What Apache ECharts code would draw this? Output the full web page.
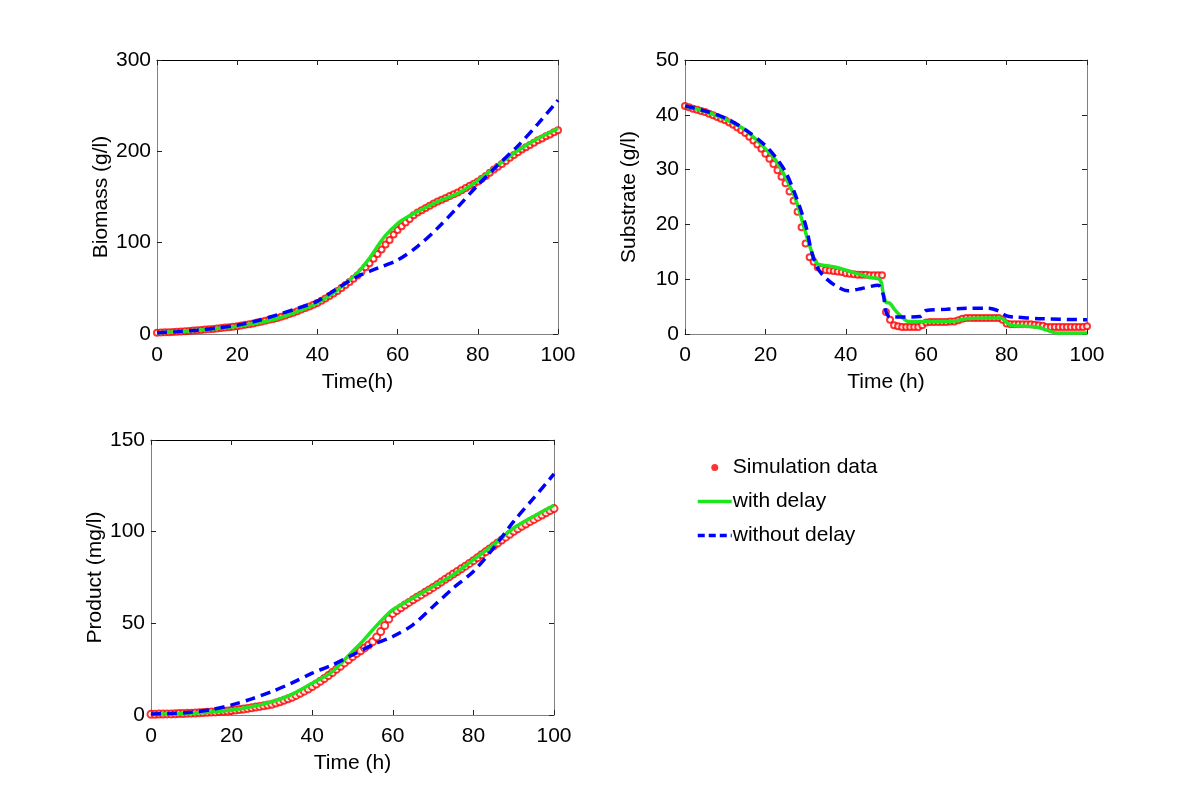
<!DOCTYPE html>
<html>
<head>
<meta charset="utf-8">
<script src="https://cdn.jsdelivr.net/npm/echarts@6/dist/echarts.min.js"></script>
<style>
html,body{margin:0;padding:0;background:#fff;}
#chart{width:1200px;height:803px;}
</style>
</head>
<body>
<div id="chart"></div>
<script>
// ---------- DATA ----------
const simTime = [0,1,2,3,4,5,6,7,8,9,10,11,12,13,14,15,16,17,18,19,20,21,22,23,24,25,26,27,28,29,30,31,32,33,34,35,36,37,38,39,40,41,42,43,44,45,46,47,48,49,50,51,52,53,54,55,56,57,58,59,60,61,62,63,64,65,66,67,68,69,70,71,72,73,74,75,76,77,78,79,80,81,82,83,84,85,86,87,88,89,90,91,92,93,94,95,96,97,98,99,100];

const biomassSim = [1.5,1.6,1.8,2.0,2.2,2.5,2.8,3.1,3.4,3.7,4.0,4.4,4.8,5.2,5.6,6.0,6.5,7.0,7.5,8.0,8.5,9.2,10.0,10.8,11.6,12.5,13.5,14.5,15.5,16.5,17.5,18.9,20.3,21.8,23.4,25.0,26.7,28.4,30.2,32.1,34.0,36.5,39.0,41.6,44.3,47.0,50.3,53.6,57.0,60.5,64.0,68.5,73,77.5,82.5,87.5,92.5,98,103,109,114,118,122,126,130,133,135.5,138,140.5,143,145,147,149,151,153,155,157.4,159.8,162.2,164.6,167,170,173,176.5,180,183,186,189.5,193,196,199,202,204.5,207,209.5,212,214,216.5,218.5,221,223];

const substrateSim = [41.6,41.4,41.1,40.9,40.7,40.5,40.2,39.9,39.6,39.3,39.0,38.6,38.2,37.7,37.2,36.7,36.0,35.3,34.6,33.8,32.9,32.0,31.0,29.9,28.7,27.5,26.0,24.3,22.3,19.5,16.5,14.0,13.2,12.2,11.9,11.7,11.6,11.5,11.4,11.3,11.1,11.0,10.9,10.8,10.8,10.8,10.7,10.7,10.7,10.7,4.0,2.6,1.6,1.4,1.3,1.3,1.3,1.3,1.3,1.6,2.1,2.2,2.2,2.2,2.2,2.2,2.3,2.3,2.5,2.8,2.9,2.9,2.9,2.9,2.9,2.9,2.9,2.9,2.9,2.6,1.9,1.8,1.8,1.8,1.8,1.8,1.8,1.7,1.6,1.5,1.3,1.3,1.3,1.3,1.3,1.3,1.3,1.3,1.3,1.3,1.4];

const productSim = [0.4,0.4,0.5,0.5,0.6,0.6,0.7,0.8,0.8,0.9,1.0,1.1,1.2,1.3,1.5,1.6,1.7,1.9,2.0,2.2,2.4,2.7,3.0,3.3,3.6,3.9,4.3,4.7,5.0,5.4,5.8,6.5,7.2,8.0,8.8,9.7,10.7,11.8,13.0,14.2,15.5,16.9,18.4,19.9,21.5,23.2,24.9,26.6,28.4,30.1,31.9,33.5,35.0,36.6,38.2,40.0,42.5,45.5,48.8,52.3,55.4,57.0,58.5,60.0,61.4,62.8,64.2,65.5,66.9,68.2,69.6,71.0,72.5,74.0,75.4,76.9,78.3,79.8,81.2,82.7,84.2,85.8,87.4,89.0,90.6,92.2,93.8,95.4,97.0,98.6,100.2,101.6,102.9,104.2,105.5,106.7,107.9,109.1,110.3,111.5,112.6];

const biomassDelayTime = [0,5,10,15,20,25,30,35,40,45,50,53,55,57,60,62,65,70,75,80,85,90,95,100];
const biomassDelay     = [1.5,2.5,4,6,8.5,12,17,24.5,34,48,67,83,96,108,121,127,134,145,154,168,185,201,214,225];
const biomassNoDelayTime = [0,5,10,15,20,25,30,35,40,45,50,55,60,65,70,75,80,85,90,95,100];
const biomassNoDelay     = [1.5,2.5,4.2,6.5,9.5,14.5,21,28,36,50,63,72,81,96,116,139,163,185,206,230,256];

const substrateDelayTime = [0,5,10,15,20,22.5,25,27.5,30,32,33,35,38,42,46,48.5,49.3,50,51,52,53.5,55.5,60,65,67.5,70,75,78.5,80,81,85,88,90,92.5,100];
const substrateDelay     = [41.6,40.6,39.2,37.2,33.8,31.8,28.6,24.6,18.5,14,12.8,12.5,12.1,11.2,10.3,9.9,7.5,5.8,5.6,4.6,3.4,2.3,2.3,2.3,2.4,2.8,2.9,2.9,2.1,1.6,1.4,1.2,0.7,0.2,0.2];
const substrateNoDelayTime = [0,5,10,15,20,22.5,25,27.5,30,31.5,33,35,37.5,40.5,44,48,49.3,50,51,55,58.5,60,65,70,75.5,78,80,82,88,100];
const substrateNoDelay     = [41.6,40.7,39.4,37.3,34.4,32.3,29.6,25.3,19.9,15,12,10.2,8.8,7.9,8.3,8.9,7.2,4.1,3.1,3.1,3.2,4.3,4.5,4.7,4.7,4.2,3.3,3.1,2.8,2.6];

const productDelayTime = [0,5,10,15,20,25,30,35,40,45,50,52,55,58,60,62,65,70,75,80,85,90,95,100];
const productDelay     = [0.4,0.6,1,1.7,2.7,4.6,7.3,11.3,17.3,23.7,34.6,39,46.4,53.5,57.4,60,63.8,70.1,76.5,84.7,92.9,102,108.4,114.4];
const productNoDelayTime = [0,5,10,15,20,25,30,35,40,45,50,55,60,65,70,75,80,85,90,95,100];
const productNoDelay     = [0.5,0.8,1.5,3,5.5,8.8,12.8,17.5,22.8,27.3,32.8,38.3,42.8,49.2,59.2,69.2,78.3,91.1,105.6,118.4,131.5];

const timeTicks = [0,20,40,60,80,100];
const seriesNames = ['Simulation data','with delay','without delay'];
const panelYNames = ['Biomass (g/l)','Substrate (g/l)','Product (mg/l)'];
const panelXNames = ['Time(h)','Time (h)','Time (h)'];
const panelYMax = [300,50,150];
const panelYInterval = [100,10,50];

// ---------- STYLE ----------
const FONT = 'Liberation Sans, Arial, Helvetica, sans-serif';
const RED = '#ff0000', GREEN = '#1ee61e', BLUE = '#0000ff';
const grids = [
  {left:157, top:60, width:401, height:274},
  {left:685, top:60, width:402, height:274},
  {left:151, top:440, width:403, height:275}
];
const zip = (xs, ys) => xs.map((x, i) => [x, ys[i]]);

const xAxes = [], yAxes = [], series = [];
const panels = [
  {sim: biomassSim, d: [biomassDelayTime, biomassDelay], nd: [biomassNoDelayTime, biomassNoDelay], simSize:6, simBorder:1},
  {sim: substrateSim, d: [substrateDelayTime, substrateDelay], nd: [substrateNoDelayTime, substrateNoDelay], simSize:6, simBorder:1},
  {sim: productSim, d: [productDelayTime, productDelay], nd: [productNoDelayTime, productNoDelay], simSize:7, simBorder:3}
];

panels.forEach((p, i) => {
  const common = {gridIndex:i, min:0, max:100, interval:20, type:'value'};
  xAxes.push(Object.assign({}, common, {
    position:'bottom',
    name: panelXNames[i], nameLocation:'middle', nameGap:38,
    nameTextStyle:{fontFamily:FONT, fontSize:21, color:'#000'},
    axisLine:{show:true, onZero:false, lineStyle:{color:'#808080', width:1}},
    axisTick:{show:true, inside:true, length:5, lineStyle:{color:'#222'}},
    axisLabel:{show:true, margin:11, fontFamily:FONT, fontSize:21, color:'#000'},
    splitLine:{show:false}
  }));
  xAxes.push(Object.assign({}, common, {
    position:'top',
    axisLine:{show:true, onZero:false, lineStyle:{color:'#000', width:1}},
    axisTick:{show:true, inside:true, length:5, lineStyle:{color:'#222'}},
    axisLabel:{show:false}, splitLine:{show:false}
  }));
  const ycommon = {gridIndex:i, min:0, max:panelYMax[i], interval:panelYInterval[i], type:'value'};
  yAxes.push(Object.assign({}, ycommon, {
    position:'left',
    name: panelYNames[i], nameLocation:'middle', nameGap:45, nameRotate:90,
    nameTextStyle:{fontFamily:FONT, fontSize:21, color:'#000'},
    axisLine:{show:true, onZero:false, lineStyle:{color:'#808080', width:1}},
    axisTick:{show:true, inside:true, length:5, lineStyle:{color:'#222'}},
    axisLabel:{show:true, margin:6, fontFamily:FONT, fontSize:21, color:'#000'},
    splitLine:{show:false}
  }));
  yAxes.push(Object.assign({}, ycommon, {
    position:'right',
    axisLine:{show:true, onZero:false, lineStyle:{color:'#808080', width:1}},
    axisTick:{show:true, inside:true, length:5, lineStyle:{color:'#222'}},
    axisLabel:{show:false}, splitLine:{show:false}
  }));
  const xi = i*2, yi = i*2;
  series.push({
    name: seriesNames[0], type:'scatter', xAxisIndex:xi, yAxisIndex:yi,
    symbol:'emptyCircle', symbolSize:p.simSize,
    itemStyle:{color:RED, borderColor:RED, borderWidth:p.simBorder},
    data: zip(simTime, p.sim), silent:true, z:2
  });
  series.push({
    name: seriesNames[1], type:'line', xAxisIndex:xi, yAxisIndex:yi,
    showSymbol:false, symbol:'none', smooth:0.3,
    lineStyle:{color:GREEN, width:3.5}, itemStyle:{color:GREEN},
    data: zip(p.d[0], p.d[1]), silent:true, z:3
  });
  series.push({
    name: seriesNames[2], type:'line', xAxisIndex:xi, yAxisIndex:yi,
    showSymbol:false, symbol:'none', smooth:0.3,
    lineStyle:{color:BLUE, width:3.5, type:[10,6]}, itemStyle:{color:BLUE},
    data: zip(p.nd[0], p.nd[1]), silent:true, z:4
  });
});

const chart = echarts.init(document.getElementById('chart'), null, {renderer:'canvas'});
chart.setOption({
  backgroundColor:'#fff',
  animation:false,
  grid: grids,
  xAxis: xAxes,
  yAxis: yAxes,
  legend: {
    orient:'vertical', left:691, top:452,
    itemWidth:34, itemHeight:7, itemGap:13,
    textStyle:{fontFamily:FONT, fontSize:21, color:'#000', padding:[0,0,0,-4]},
    data:[
      {name:seriesNames[0], icon:'circle', itemStyle:{color:RED, borderWidth:0}},
      {name:seriesNames[1], itemStyle:{opacity:0}, lineStyle:{color:GREEN, width:3.5, opacity:1}},
      {name:seriesNames[2], itemStyle:{opacity:0}, lineStyle:{color:BLUE, width:3.5, type:[7,4], opacity:1}}
    ],
    selectedMode:false
  },
  series: series
});
</script>
</body>
</html>
